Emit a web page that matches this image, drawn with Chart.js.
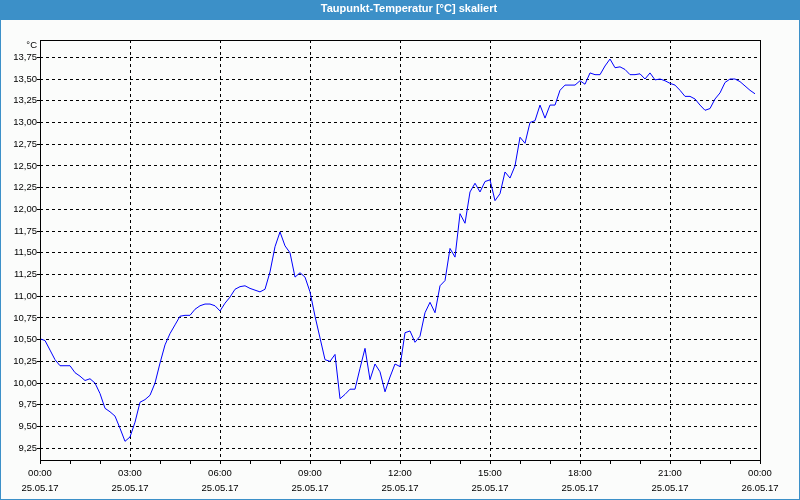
<!DOCTYPE html>
<html>
<head>
<meta charset="utf-8">
<title>Taupunkt-Temperatur</title>
<script src="https://cdn.jsdelivr.net/npm/chart.js@4/dist/chart.umd.min.js"></script>
<style>
  html, body { margin: 0; padding: 0; background: #fbfcfb; }
  #wrap { width: 800px; height: 500px; }
</style>
</head>
<body>
<div id="wrap"><canvas id="chart" width="800" height="500"></canvas></div>
<script>
const chartTitle = 'Taupunkt-Temperatur [°C] skaliert';
const unitLabel = '°C';
const sampleMinutes = 10;

// dew point readings every 10 minutes, 25.05.17
const dewNight = [10.51, 10.49, 10.38, 10.27, 10.20, 10.20, 10.20, 10.12, 10.08, 10.03,
    10.05, 10.00, 9.88, 9.71, 9.67, 9.62, 9.48, 9.33, 9.38, 9.55, 9.78, 9.81, 9.86, 10.00,
    10.23, 10.44, 10.57, 10.67, 10.77, 10.78, 10.78, 10.85, 10.89, 10.91, 10.91, 10.89, 10.83];
const dewMorning = [10.92, 10.99, 11.08, 11.11, 11.12, 11.09, 11.07, 11.05, 11.08, 11.28,
    11.57, 11.74, 11.58, 11.50, 11.22, 11.27, 11.22, 11.05, 10.77, 10.52, 10.27, 10.25,
    10.33, 9.82, 9.87, 9.93, 9.93, 10.17, 10.40, 10.04, 10.22, 10.13, 9.90, 10.07, 10.22, 10.19];
const dewAfternoon = [10.58, 10.60, 10.47, 10.54, 10.81, 10.93, 10.81, 11.12, 11.18, 11.55,
    11.45, 11.95, 11.84, 12.20, 12.30, 12.20, 12.32, 12.34, 12.10, 12.18, 12.43, 12.36,
    12.50, 12.83, 12.76, 13.00, 13.02, 13.20, 13.05, 13.20, 13.20, 13.37, 13.43, 13.43, 13.43, 13.48];
const dewEvening = [13.44, 13.57, 13.55, 13.55, 13.65, 13.73, 13.63, 13.64, 13.61, 13.55,
    13.55, 13.56, 13.50, 13.57, 13.49, 13.50, 13.48, 13.45, 13.43, 13.37, 13.30, 13.30,
    13.27, 13.20, 13.14, 13.16, 13.27, 13.34, 13.46, 13.50, 13.50, 13.47, 13.42, 13.37, 13.33];

const yTicks = [9.25, 9.5, 9.75, 10, 10.25, 10.5, 10.75, 11, 11.25, 11.5, 11.75,
    12, 12.25, 12.5, 12.75, 13, 13.25, 13.5, 13.75];
const xTickHours = [0, 3, 6, 9, 12, 15, 18, 21, 24];
const xTimeLabels = ['00:00', '03:00', '06:00', '09:00', '12:00', '15:00', '18:00', '21:00', '00:00'];
const xDateLabels = ['25.05.17', '25.05.17', '25.05.17', '25.05.17', '25.05.17',
    '25.05.17', '25.05.17', '25.05.17', '26.05.17'];

const dewAll = dewNight.concat(dewMorning, dewAfternoon, dewEvening);
const points = dewAll.map((v, i) => ({ x: i * sampleMinutes / 60, y: v }));

const labelFont = { family: '"Liberation Sans", Arial, sans-serif', size: 9.5 };
const blue = '#3c90c8';

// title bar, outer frame, plot border and unit label
const framePlugin = {
    id: 'frame',
    beforeDraw(chart) {
        const ctx = chart.ctx;
        ctx.save();
        ctx.fillStyle = '#fbfcfb';
        ctx.fillRect(0, 0, chart.width, chart.height);
        ctx.fillStyle = blue;
        ctx.fillRect(0, 0, chart.width, 20);
        ctx.strokeStyle = blue;
        ctx.lineWidth = 1;
        ctx.strokeRect(0.5, 0.5, chart.width - 1, chart.height - 1);
        ctx.fillStyle = '#ffffff';
        ctx.font = 'bold 11px "Liberation Sans", Arial, sans-serif';
        ctx.textAlign = 'center';
        ctx.textBaseline = 'middle';
        ctx.fillText(chartTitle, 409, 9);
        ctx.restore();
    },
    afterDraw(chart) {
        const ctx = chart.ctx;
        const a = chart.chartArea;
        ctx.save();
        ctx.strokeStyle = '#000000';
        ctx.lineWidth = 1;
        ctx.strokeRect(a.left + 0.5, a.top + 0.5, a.right - a.left, a.bottom - a.top);
        ctx.fillStyle = '#000000';
        ctx.font = '9.5px "Liberation Sans", Arial, sans-serif';
        ctx.textAlign = 'right';
        ctx.textBaseline = 'middle';
        ctx.fillText(unitLabel, a.left - 3, a.top + 5);
        ctx.restore();
    }
};

new Chart(document.getElementById('chart'), {
    type: 'line',
    data: {
        datasets: [{
            data: points,
            borderColor: '#0000ff',
            borderWidth: 1,
            pointRadius: 0,
            tension: 0,
            fill: false
        }]
    },
    options: {
        responsive: false,
        animation: false,
        devicePixelRatio: 1,
        layout: { padding: { top: 40, left: 0, right: 40, bottom: 0 } },
        plugins: {
            legend: { display: false },
            tooltip: { enabled: false }
        },
        scales: {
            x: {
                type: 'linear',
                min: 0,
                max: 24,
                afterFit: (scale) => { scale.height = 40; },
                border: { display: false, dash: [3, 3] },
                grid: {
                    color: (ctx) => (ctx.tick && ctx.tick.value % 3 === 0 && ctx.tick.value > 0 && ctx.tick.value < 24) ? '#000000' : 'rgba(0,0,0,0)',
                    tickColor: '#000000',
                    tickLength: 4,
                    lineWidth: 1
                },
                ticks: {
                    stepSize: 1,
                    autoSkip: false,
                    maxRotation: 0,
                    padding: 2,
                    color: '#000000',
                    font: { ...labelFont, lineHeight: 1.6 },
                    callback: (v) => {
                        const i = xTickHours.indexOf(v);
                        return i >= 0 ? [xTimeLabels[i], xDateLabels[i]] : '';
                    }
                }
            },
            y: {
                min: 9.115,
                max: 13.949,
                afterFit: (scale) => { scale.width = 40; },
                afterBuildTicks: (scale) => { scale.ticks = yTicks.map(v => ({ value: v })); },
                border: { display: false, dash: [3, 3] },
                grid: {
                    color: '#000000',
                    tickColor: '#000000',
                    tickLength: 3,
                    lineWidth: 1
                },
                ticks: {
                    padding: 0,
                    color: '#000000',
                    font: labelFont,
                    callback: (v) => v.toFixed(2).replace('.', ',')
                }
            }
        }
    },
    plugins: [framePlugin]
});
</script>
</body>
</html>
